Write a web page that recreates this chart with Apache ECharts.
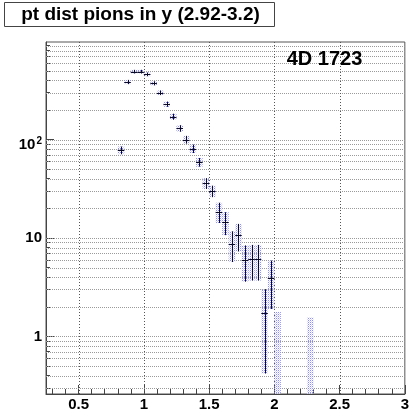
<!DOCTYPE html>
<html><head><meta charset="utf-8">
<script src="https://cdn.jsdelivr.net/npm/echarts@6/dist/echarts.min.js"></script>
<style>html,body{margin:0;padding:0;background:#fff;}#c{width:412px;height:416px;}</style>
</head><body><div id="c"></div>
<script>
// ---- data ----
const binCenters = [0.825,0.875,0.925,0.975,1.025,1.075,1.125,1.175,1.225,1.275,1.325,1.375,1.425,1.475,1.525,1.575,1.625,1.675,1.725,1.775,1.825,1.875,1.925,1.975,2.025,2.275];
const counts     = [78,385,490,490,460,373,299,229,171,130,100,81,59,36,30,18.5,14.5,8.7,10.6,6.0,6.1,6.1,1.72,3.9,0,0];
const errors     = [7,19,21,21,20,18,16,14,12,10,9,8,6,4.5,4,4.3,3.8,3.0,3.3,2.4,2.4,2.4,1.3,2.0,1.77,1.56];
const binWidth = 0.05;
const xRange = [0.25, 3.0];
const yRange = [0.26, 980];
const xMajorTicks = [0.5,1,1.5,2,2.5,3];
const xMinorTicks = [0.3,0.4,0.6,0.7,0.8,0.9,1.1,1.2,1.3,1.4,1.6,1.7,1.8,1.9,2.1,2.2,2.3,2.4,2.6,2.7,2.8,2.9];
const xTickLabels = ['0.5','1','1.5','2','2.5','3'];
const yMajorTicks = [1,10,100];
const yMinorTicks = [0.3,0.4,0.5,0.6,0.7,0.8,0.9,2,3,4,5,6,7,8,9,20,30,40,50,60,70,80,90,200,300,400,500,600,700,800,900];
const yTickLabels = ['1','10','10^2'];
const titleText = 'pt dist pions in y (2.92-3.2)';
const tagText = '4D 1723';

const FONT = '"Liberation Sans", Arial, Helvetica, sans-serif';
const chart = echarts.init(document.getElementById('c'), null, {renderer:'canvas'});

// dotted blue pattern for error boxes
const pc = document.createElement('canvas');
pc.width = 2; pc.height = 2;
const pctx = pc.getContext('2d');
pctx.fillStyle = '#8e8eff'; pctx.fillRect(0,0,1,1);
pctx.fillStyle = '#d6d6ff'; pctx.fillRect(1,1,1,1);
const dotFill = {image: pc, repeat: 'repeat'};

const yGridAll = yMinorTicks.concat(yMajorTicks);
const xGridLines = xMajorTicks.filter(v => v < xRange[1]);

function fmtY(v){
  const i = yMajorTicks.findIndex(t => Math.abs(t - v) / t < 1e-6);
  if (i < 0) return '';
  const s = yTickLabels[i];
  if (s.indexOf('^') >= 0) { const p = s.split('^'); return '{b2|' + p[0] + '}{s|' + p[1] + '}'; }
  return '{b|' + s + '}';
}
function fmtX(v){
  const i = xMajorTicks.findIndex(t => Math.abs(t - v) < 1e-6);
  return i < 0 ? '' : xTickLabels[i];
}

const option = {
  animation: false,
  backgroundColor: '#fff',
  grid: {left: 46, right: 5, top: 42, bottom: 22, show: true, borderColor: '#555', borderWidth: 1, backgroundColor: 'transparent'},
  xAxis: [{
    type: 'value', min: xRange[0], max: xRange[1],
    axisLine: {show: true, lineStyle: {color: '#444', width: 1}},
    axisTick: {show: true, inside: true, length: 5, customValues: xMinorTicks, lineStyle: {color: '#444'}},
    axisLabel: {customValues: xMajorTicks, formatter: fmtX, margin: 3, fontFamily: FONT, fontWeight: 'bold', fontSize: 15, color: '#000'},
    splitLine: {show: false}
  },{
    type: 'value', min: xRange[0], max: xRange[1], position: 'bottom',
    axisLine: {show: false},
    axisTick: {show: true, inside: true, length: 9, customValues: xMajorTicks, lineStyle: {color: '#444'}},
    axisLabel: {show: false}, splitLine: {show: false}
  }],
  yAxis: [{
    type: 'log', min: yRange[0], max: yRange[1], logBase: 10,
    axisLine: {show: true, lineStyle: {color: '#444', width: 1}},
    axisTick: {show: true, inside: true, length: 8, customValues: yMajorTicks, lineStyle: {color: '#444'}},
    axisLabel: {customValues: yMajorTicks, formatter: fmtY, margin: 4,
      rich: {
        b: {fontFamily: FONT, fontWeight: 'bold', fontSize: 15, color: '#000'},
        b2: {fontFamily: FONT, fontWeight: 'bold', fontSize: 15, color: '#000', padding: [11,0,0,0]},
        s: {fontFamily: FONT, fontWeight: 'bold', fontSize: 10, color: '#000', padding: [3,0,0,1]}
      }},
    splitLine: {show: false}
  },{
    type: 'log', min: yRange[0], max: yRange[1], logBase: 10, position: 'left',
    axisLine: {show: false},
    axisTick: {show: true, inside: true, length: 4, customValues: yMinorTicks, lineStyle: {color: '#444'}},
    axisLabel: {show: false}, splitLine: {show: false}
  }],
  graphic: [
    {type: 'rect', shape: {x: 4.5, y: 2.5, width: 270, height: 24}, style: {fill: '#fff', stroke: '#444', lineWidth: 1}, z: 100},
    {type: 'text', x: 140.5, y: 15, style: {text: titleText, font: 'bold 19px ' + FONT, fill: '#000', textAlign: 'center', textVerticalAlign: 'middle'}, z: 101},
    {type: 'text', x: 324.5, y: 59, style: {text: tagText, font: 'bold 20px ' + FONT, fill: '#000', textAlign: 'center', textVerticalAlign: 'middle'}, z: 101}
  ],
  series: [
    {
      type: 'custom', name: 'hgrid', silent: true, z: 1,
      data: yGridAll.map(v => [xRange[0], v]),
      renderItem: function(params, api){
        const v = api.value(1);
        const a = api.coord([xRange[0], v]), b = api.coord([xRange[1], v]);
        const y = Math.round(a[1]) + 0.5;
        return {type: 'line', shape: {x1: a[0], y1: y, x2: b[0], y2: y}, style: {stroke: '#9a9a9a', lineWidth: 1, lineDash: [1,1]}};
      }
    },
    {
      type: 'custom', name: 'vgrid', silent: true, z: 1,
      data: xGridLines.map(x => [x, yRange[1]]),
      renderItem: function(params, api){
        const x = api.value(0);
        const a = api.coord([x, yRange[0]]), b = api.coord([x, yRange[1]]);
        const px = Math.round(a[0]) + 0.5;
        return {type: 'line', shape: {x1: px, y1: a[1], x2: px, y2: b[1]}, style: {stroke: '#555', lineWidth: 1, lineDash: [1,2]}};
      }
    },
    {
      type: 'custom', name: 'errbox', silent: true, z: 3,
      data: binCenters.map((x, i) => [x, counts[i], errors[i]]),
      renderItem: function(params, api){
        const x = api.value(0), v = api.value(1), e = api.value(2);
        const lo = Math.max(v - e, yRange[0]), hi = Math.min(v + e, yRange[1]);
        const p1 = api.coord([x - binWidth/2, hi]), p2 = api.coord([x + binWidth/2, lo]);
        return {type: 'rect', shape: {x: p1[0], y: p1[1], width: p2[0] - p1[0], height: p2[1] - p1[1]}, style: {fill: dotFill}};
      }
    },
    {
      type: 'custom', name: 'points', silent: true, z: 4,
      data: binCenters.map((x, i) => [x, counts[i], errors[i]]),
      renderItem: function(params, api){
        const x = api.value(0), v = api.value(1), e = api.value(2);
        if (!(v > 0)) return null;
        const lo = Math.max(v - e, yRange[0]), hi = Math.min(v + e, yRange[1]);
        const c = api.coord([x, v]);
        const l = api.coord([x - binWidth/2, v]), r = api.coord([x + binWidth/2, v]);
        const t = api.coord([x, hi]), b = api.coord([x, lo]);
        const px = Math.round(c[0]) + 0.5, py = Math.round(c[1]) + 0.5;
        return {type: 'group', children: [
          {type: 'line', shape: {x1: l[0], y1: py, x2: r[0], y2: py}, style: {stroke: '#0a0a28', lineWidth: 1}},
          {type: 'line', shape: {x1: px, y1: t[1], x2: px, y2: b[1]}, style: {stroke: '#0a0a28', lineWidth: 1}}
        ]};
      }
    }
  ]
};
chart.setOption(option);
</script>
</body></html>
